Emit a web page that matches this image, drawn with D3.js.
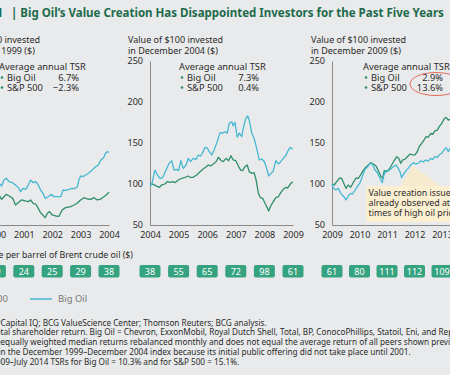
<!DOCTYPE html>
<html><head><meta charset="utf-8">
<script src="https://cdn.jsdelivr.net/npm/d3@7"></script>
<style>
body{margin:0;background:#e9eaeb;overflow:hidden}
svg{display:block}
text{font-family:'Noto Sans',sans-serif}
</style>
</head><body>
<svg id="c" width="450" height="375"></svg>
<script>
// ---------- DATA ----------
const panelStarts = [1999, 2004, 2009];
const panelEnds = [2004, 2009, 2014.58];
const headerLine2 = ["in December 1999 ($)", "in December 2004 ($)", "in December 2009 ($)"];
const yTicks = [50, 100, 150, 200, 250];
const xTicks1 = [1999, 2000, 2001, 2002, 2003, 2004];
const xTicks2 = [2004, 2005, 2006, 2007, 2008, 2009];
const xTicks3 = [2009, 2010, 2011, 2012, 2013, 2014];
const oil1 = [18, 29, 24, 25, 29, 38];
const oil2 = [38, 55, 65, 72, 98, 61];
const oil3 = [61, 80, 111, 112, 109, 108];
const tsrBigOil = ["6.7%", "7.3%", "2.9%"];
const tsrSP = ["\u22122.3%", "0.4%", "13.6%"];

const bigOil1 = [[1999,100],[2000.13,100.8],[2000.22,97.6],[2000.30,104.9],[2000.38,107],[2000.48,102.8],[2000.60,101.6],[2000.71,98.8],[2000.83,94.7],[2000.89,90.6],[2000.97,94.7],[2001.07,93.5],[2001.16,98.8],[2001.24,104.9],[2001.33,101.6],[2001.42,102.8],[2001.51,98.8],[2001.59,92.7],[2001.68,88.6],[2001.75,82.5],[2001.86,84.5],[2001.98,87.4],[2002.06,84.5],[2002.18,84.5],[2002.30,84.5],[2002.38,92.7],[2002.48,92.3],[2002.59,93.5],[2002.69,94.7],[2002.77,94.3],[2002.88,96],[2002.94,104.9],[2003.00,109.8],[2003.08,109],[2003.18,111],[2003.30,113.8],[2003.41,117],[2003.53,121],[2003.62,123],[2003.71,129],[2003.82,132.5],[2003.88,137.4],[2003.94,139.4],[2004.0,138.6]];
const sp1 = [[1999,100],[2000.13,86.6],[2000.22,81.3],[2000.30,84.5],[2000.38,87.4],[2000.49,85.4],[2000.61,82.5],[2000.71,74.4],[2000.80,77.2],[2000.92,80.5],[2001.04,79.3],[2001.16,78.5],[2001.24,80.5],[2001.33,76.4],[2001.42,75.6],[2001.51,70.3],[2001.59,65],[2001.65,63],[2001.75,58.9],[2001.83,64.2],[2001.91,66.3],[2002.00,62.2],[2002.12,61],[2002.24,60.6],[2002.35,68.3],[2002.47,71.2],[2002.65,72.4],[2002.77,74.4],[2002.88,76.5],[2003.00,80.5],[2003.12,83.3],[2003.24,81.7],[2003.36,81.3],[2003.47,83.3],[2003.59,80.5],[2003.71,81.7],[2003.82,84.5],[2003.90,86.6],[2004.0,89.9]];

const bigOil2 = [[2004.0,100],[2004.06,98.8],[2004.17,117],[2004.26,111],[2004.35,107],[2004.44,107.5],[2004.56,117],[2004.67,125.2],[2004.76,128.4],[2004.84,117],[2004.93,117.8],[2005.00,116.3],[2005.08,128.4],[2005.16,119.1],[2005.26,123.2],[2005.34,131.3],[2005.42,127.2],[2005.51,131.3],[2005.61,130],[2005.69,135.4],[2005.77,134.1],[2005.86,139.4],[2005.92,144.7],[2006.00,144],[2006.07,139.4],[2006.16,135.4],[2006.24,141.5],[2006.33,149.6],[2006.45,162.6],[2006.54,162],[2006.62,163.8],[2006.70,162],[2006.77,174],[2006.86,176],[2006.91,171],[2006.97,175.2],[2007.05,157],[2007.12,162],[2007.21,157.8],[2007.26,168],[2007.35,180],[2007.42,183],[2007.47,178],[2007.56,161.8],[2007.64,155.7],[2007.73,143.5],[2007.82,129.3],[2007.91,130.5],[2008.00,127.2],[2008.08,119.1],[2008.15,109.8],[2008.23,113],[2008.31,115.9],[2008.40,128.4],[2008.49,124.5],[2008.57,127.2],[2008.66,131.3],[2008.76,135.4],[2008.81,139.4],[2008.90,144.7],[2008.99,142.3]];
const sp2 = [[2004.0,100],[2004.12,99.6],[2004.21,97.6],[2004.33,96],[2004.41,98.8],[2004.52,100],[2004.60,102.8],[2004.70,102],[2004.79,102.8],[2004.87,101.6],[2004.99,104.9],[2005.11,107],[2005.22,107.9],[2005.32,109.8],[2005.40,108.2],[2005.51,108.2],[2005.63,111],[2005.75,115],[2005.86,118.3],[2005.96,121.1],[2006.04,123.2],[2006.12,122],[2006.21,124.4],[2006.31,127.2],[2006.39,132.6],[2006.47,129.3],[2006.56,127.2],[2006.66,131.3],[2006.75,128.4],[2006.83,134.5],[2006.91,129.3],[2007.00,128.4],[2007.09,122],[2007.17,117],[2007.24,116.3],[2007.32,121.1],[2007.40,123.2],[2007.47,115],[2007.56,113],[2007.64,113.8],[2007.71,104.9],[2007.79,88.6],[2007.85,83.7],[2007.94,82.5],[2008.02,76.5],[2008.08,72.4],[2008.15,67.1],[2008.22,73.2],[2008.31,78.5],[2008.40,83.3],[2008.49,84.5],[2008.57,89.4],[2008.66,93.5],[2008.76,96],[2008.81,95],[2008.90,99.6],[2008.99,102.8]];

const bigOil3 = [[2009.0,100],[2009.05,94.7],[2009.15,92.7],[2009.23,94.7],[2009.32,88.6],[2009.41,85.4],[2009.51,80.5],[2009.59,85.4],[2009.68,88.6],[2009.75,87.8],[2009.84,92.7],[2009.92,96.8],[2010.02,101.6],[2010.10,109],[2010.20,118],[2010.30,121.1],[2010.38,125.2],[2010.48,124],[2010.56,117],[2010.65,113.8],[2010.75,107],[2010.83,101.6],[2010.89,111],[2010.96,116.3],[2011.05,116.3],[2011.13,118],[2011.23,121.1],[2011.33,123.2],[2011.41,119.1],[2011.47,115],[2011.53,107.7],[2011.62,113],[2011.69,116.3],[2011.77,119.1],[2011.86,123.2],[2011.96,126],[2012.04,124.4],[2012.14,125.2],[2012.23,128.4],[2012.32,126.8],[2012.41,129.3],[2012.50,128],[2012.59,131.3],[2012.66,130],[2012.75,133.3],[2012.83,132.6],[2012.90,135.4],[2012.99,137.4],[2013.07,141.5],[2013.15,144.3],[2013.23,139.4],[2013.29,143.5],[2013.40,140]];
const sp3 = [[2009.0,100],[2009.08,98.8],[2009.17,102.8],[2009.27,107],[2009.35,107],[2009.44,100],[2009.51,94.7],[2009.59,98.8],[2009.68,96],[2009.77,101.6],[2009.87,107],[2009.96,107],[2010.04,111],[2010.14,117],[2010.23,120.4],[2010.32,123.2],[2010.41,126],[2010.50,124.4],[2010.60,122],[2010.70,115],[2010.78,109],[2010.84,107],[2010.90,116.3],[2010.99,115],[2011.08,118],[2011.17,123.2],[2011.25,128],[2011.35,133.3],[2011.43,131.3],[2011.50,125.2],[2011.57,129.3],[2011.65,130],[2011.74,133.3],[2011.84,136.6],[2011.92,135.4],[2012.02,135.4],[2012.10,139.4],[2012.17,145.5],[2012.26,149.6],[2012.35,153.7],[2012.42,157.7],[2012.50,157],[2012.59,161.8],[2012.66,160.5],[2012.75,165],[2012.83,165.7],[2012.90,170],[2012.99,174],[2013.07,178.9],[2013.15,181.3],[2013.23,178],[2013.29,178.9],[2013.40,182]];

const titleText = "| Big Oil\u2019s Value Creation Has Disappointed Investors for the Past Five Years";
const calloutLines = ["Value creation issues", "already observed at", "times of high oil prices"];
const footPrefix = ["Sources: S&P ", "Note: TSR = to", "\u00B9Big Oil returns are ", "\u00B2Statoil is not included i", "\u00B3December 20"];
const footText = [
  "Capital IQ; BCG ValueScience Center; Thomson Reuters; BCG analysis.",
  "tal shareholder return. Big Oil = Chevron, ExxonMobil, Royal Dutch Shell, Total, BP, ConocoPhillips, Statoil, Eni, and Repsol.",
  "equally weighted median returns rebalanced monthly and does not equal the average return of all peers shown previously.",
  "n the December 1999\u2013December 2004 index because its initial public offering did not take place until 2001.",
  "09\u2013July 2014 TSRs for Big Oil = 10.3% and for S&P 500 = 15.1%."
];

// ---------- STYLE / LAYOUT ----------
const C = {green:"#2e8f6e", blue:"#46b8d2", title:"#1d6b4c", box:"#35a380", text:"#2a2a2a", axis:"#8a8a8a"};
const svg = d3.select("#c");
svg.append("rect").attr("width",450).attr("height",375).attr("fill","#e9eaeb");

const y = d3.scaleLinear().domain([50,250]).range([225,61]);
const axisX = [-33, 150, 332];
const pxYear = [28.4, 28.6, 27.5];
const headerX = [-55, 128, 311];
const legendX = [-1, 179, 363];
const xTicksAll = [xTicks1, xTicks2, xTicks3];
const oilAll = [oil1, oil2, oil3];
const bigAll = [bigOil1, bigOil2, bigOil3];
const spAll = [sp1, sp2, sp3];

// title
svg.append("text").attr("x",3).attr("y",17).attr("text-anchor","end")
  .attr("font-size",11.5).attr("font-weight",700).attr("fill",C.title).text("Exhibit 1");
svg.append("text").attr("x",11).attr("y",17)
  .attr("font-size",11.5).attr("font-weight",700).attr("fill",C.title).text(titleText);

panelStarts.forEach((start,i)=>{
  const x0 = axisX[i];
  const x = d3.scaleLinear().domain([start, panelEnds[i]])
    .range([x0, x0 + (panelEnds[i]-start)*pxYear[i]]);
  const g = svg.append("g");
  // header
  const hx = headerX[i];
  g.append("text").attr("x",hx).attr("y",42.5).attr("font-size",9).attr("fill",C.text).text("Value of $100 invested");
  g.append("text").attr("x",hx).attr("y",53.5).attr("font-size",9).attr("fill",C.text).text(headerLine2[i]);
  // y axis
  const ya = g.append("g").attr("transform",`translate(${x0},0)`)
    .call(d3.axisLeft(y).tickValues(yTicks).tickSize(0).tickPadding(7).tickFormat(d3.format("d")));
  ya.select(".domain").attr("stroke",C.axis).attr("stroke-width",1);
  ya.selectAll("text").attr("font-size",9).attr("fill",C.text).attr("font-family","'Noto Sans',sans-serif");
  // x axis
  const xa = g.append("g").attr("transform",`translate(0,${y(50)})`)
    .call(d3.axisBottom(x).tickValues(xTicksAll[i]).tickSize(0).tickPadding(7).tickFormat(d3.format("d")));
  xa.select(".domain").attr("stroke",C.axis).attr("stroke-width",1);
  xa.selectAll("text").attr("font-size",9).attr("fill",C.text).attr("font-family","'Noto Sans',sans-serif");
  // lines
  const line = d3.line().x(d=>x(d[0])).y(d=>y(d[1]));
  g.append("path").datum(spAll[i]).attr("d",line).attr("fill","none").attr("stroke",C.green).attr("stroke-width",1.3).attr("stroke-linejoin","round");
  g.append("path").datum(bigAll[i]).attr("d",line).attr("fill","none").attr("stroke",C.blue).attr("stroke-width",1.3).attr("stroke-linejoin","round");
  // TSR legend
  const lx = legendX[i];
  g.append("text").attr("x",lx).attr("y",70).attr("font-size",9.3).attr("fill",C.text).text("Average annual TSR");
  [["Big Oil",tsrBigOil[i],80.5],["S&P 500",tsrSP[i],90.5]].forEach(r=>{
    g.append("circle").attr("cx",lx+3).attr("cy",r[2]-3).attr("r",1.3).attr("fill",C.green);
    g.append("text").attr("x",lx+8).attr("y",r[2]).attr("font-size",9.3).attr("fill",C.text).text(r[0]);
    g.append("text").attr("x",lx+80).attr("y",r[2]).attr("text-anchor","end").attr("font-size",9.3).attr("fill",C.text).text(r[1]);
  });
  // oil boxes
  const bw = 21, bh = 12.5;
  xTicksAll[i].forEach((yr,k)=>{
    g.append("rect").attr("x",x(yr)-bw/2).attr("y",265).attr("width",bw).attr("height",bh).attr("rx",2).attr("fill",C.box);
    g.append("text").attr("x",x(yr)).attr("y",274.7).attr("text-anchor","middle").attr("font-size",9).attr("fill","#fff").text(oilAll[i][k]);
  });
});

// red ellipse highlight (panel 3)
svg.append("ellipse").attr("cx",436).attr("cy",84).attr("rx",26).attr("ry",11.5)
  .attr("fill","none").attr("stroke","#e0604e").attr("stroke-width",0.9);

// callout
svg.append("polygon").attr("points","400,187 413,166 442,187").attr("fill","#f8ebc9").attr("opacity",0.85);
svg.append("rect").attr("x",366).attr("y",186).attr("width",100).attr("height",36).attr("rx",3).attr("fill","#fbefd2");
calloutLines.forEach((t,k)=>{
  svg.append("text").attr("x",368.5).attr("y",196+k*10).attr("font-size",8.8).attr("fill",C.text).text(t);
});

// price label
svg.append("text").attr("x",133).attr("y",258).attr("text-anchor","end").attr("font-size",8.8).attr("fill",C.text)
  .text("Average price per barrel of Brent crude oil ($)");

// bottom legend
svg.append("line").attr("x1",-55).attr("x2",-33).attr("y1",299).attr("y2",299).attr("stroke",C.green).attr("stroke-width",1.5);
svg.append("text").attr("x",8).attr("y",302).attr("text-anchor","end").attr("font-size",9.5).attr("fill","#777").text("S&P 500");
svg.append("line").attr("x1",30).attr("x2",52).attr("y1",299).attr("y2",299).attr("stroke",C.blue).attr("stroke-width",1.5);
svg.append("text").attr("x",58).attr("y",302).attr("font-size",9.5).attr("fill","#777").text("Big Oil");

// footnotes
footText.forEach((t,k)=>{
  const yy = 325.5 + k*9.8;
  svg.append("text").attr("x",0.5).attr("y",yy).attr("text-anchor","end").attr("font-size",8.2).attr("fill",C.text).text(footPrefix[k]);
  svg.append("text").attr("x",0.5).attr("y",yy).attr("font-size",8.2).attr("fill",C.text).text(t);
});
</script>
</body></html>
